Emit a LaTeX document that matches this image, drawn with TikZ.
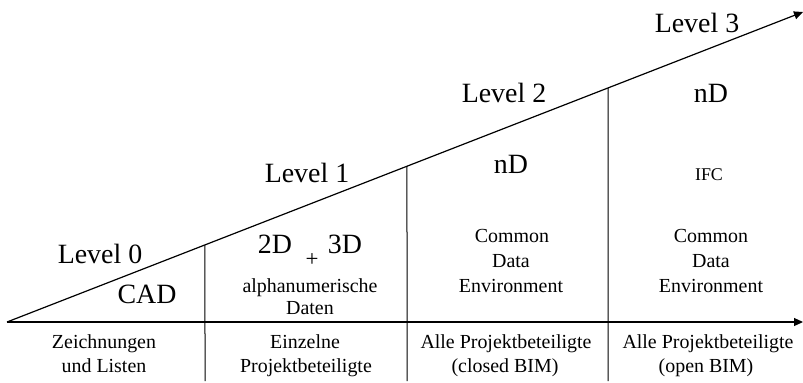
\documentclass[tikz,border=0pt]{standalone}
\usepackage{fontspec}
\setmainfont{Liberation Serif}
\usetikzlibrary{arrows.meta,calc}
\tikzset{
  axis/.style={line width=1.2bp,-{Triangle[length=9bp,width=8bp]}},
  divider/.style={line width=1bp},
  big/.style={font=\fontsize{28}{32}\selectfont,anchor=base,inner sep=0pt},
  small/.style={font=\fontsize{20}{24}\selectfont,anchor=base,inner sep=0pt},
  tiny/.style={font=\fontsize{18}{21}\selectfont,anchor=base,inner sep=0pt},
  plussign/.style={font=\fontsize{23}{26}\selectfont,anchor=center,inner sep=0pt}
}
\begin{document}
\begin{tikzpicture}[x=1bp,y=-1bp]
\useasboundingbox (0,0) rectangle (803,382);
% axes
\coordinate (o) at (7,322);
\coordinate (xe) at (803,322);
\coordinate (de) at (803,12);
\draw[axis] (o) -- (xe);
\draw[axis] (o) -- (de);
% dividers
\coordinate (d1) at ($(o)!{198/796}!(de)$);
\coordinate (d2) at ($(o)!{400/796}!(de)$);
\coordinate (d3) at ($(o)!{601/796}!(de)$);
\coordinate (b1) at (205,381);
\coordinate (b2) at (407,381);
\coordinate (b3) at (608,381);
\draw[divider] (d1) -- (b1);
\draw[divider] (d2) -- (b2);
\draw[divider] (d3) -- (b3);
% level labels
\node[big] (l0) at (100,263) {Level 0};
\node[big] (l1) at (307,182) {Level 1};
\node[big] (l2) at (504,102) {Level 2};
\node[big] (l3) at (697,32) {Level 3};
% column contents
\node[big] (cad) at (147,303) {CAD};
\node[big] (twod) at (275,253) {2D};
\node[plussign] (plus) at (312,260) {+};
\node[big] (threed) at (345,253) {3D};
\node[small] (alpha) at (310,292) {alphanumerische};
\node[small] (daten) at (310,314) {Daten};
\node[big] (nd2) at (511,173) {nD};
\node[small] (cm2) at (512,242) {Common};
\node[small] (da2) at (511,267) {Data};
\node[small] (en2) at (511,292) {Environment};
\node[big] (nd3) at (711,102) {nD};
\node[tiny] (ifc) at (709,180) {IFC};
\node[small] (cm3) at (711,242) {Common};
\node[small] (da3) at (711,267) {Data};
\node[small] (en3) at (711,292) {Environment};
% bottom row
\node[small] (z1) at (104,348) {Zeichnungen};
\node[small] (z2) at (104,372) {und Listen};
\node[small] (e1) at (305,348) {Einzelne};
\node[small] (e2) at (306,372) {Projektbeteiligte};
\node[small] (a1) at (506,348) {Alle Projektbeteiligte};
\node[small] (a2) at (505,372) {(closed BIM)};
\node[small] (o1) at (708,348) {Alle Projektbeteiligte};
\node[small] (o2) at (706,372) {(open BIM)};
\end{tikzpicture}
\end{document}
